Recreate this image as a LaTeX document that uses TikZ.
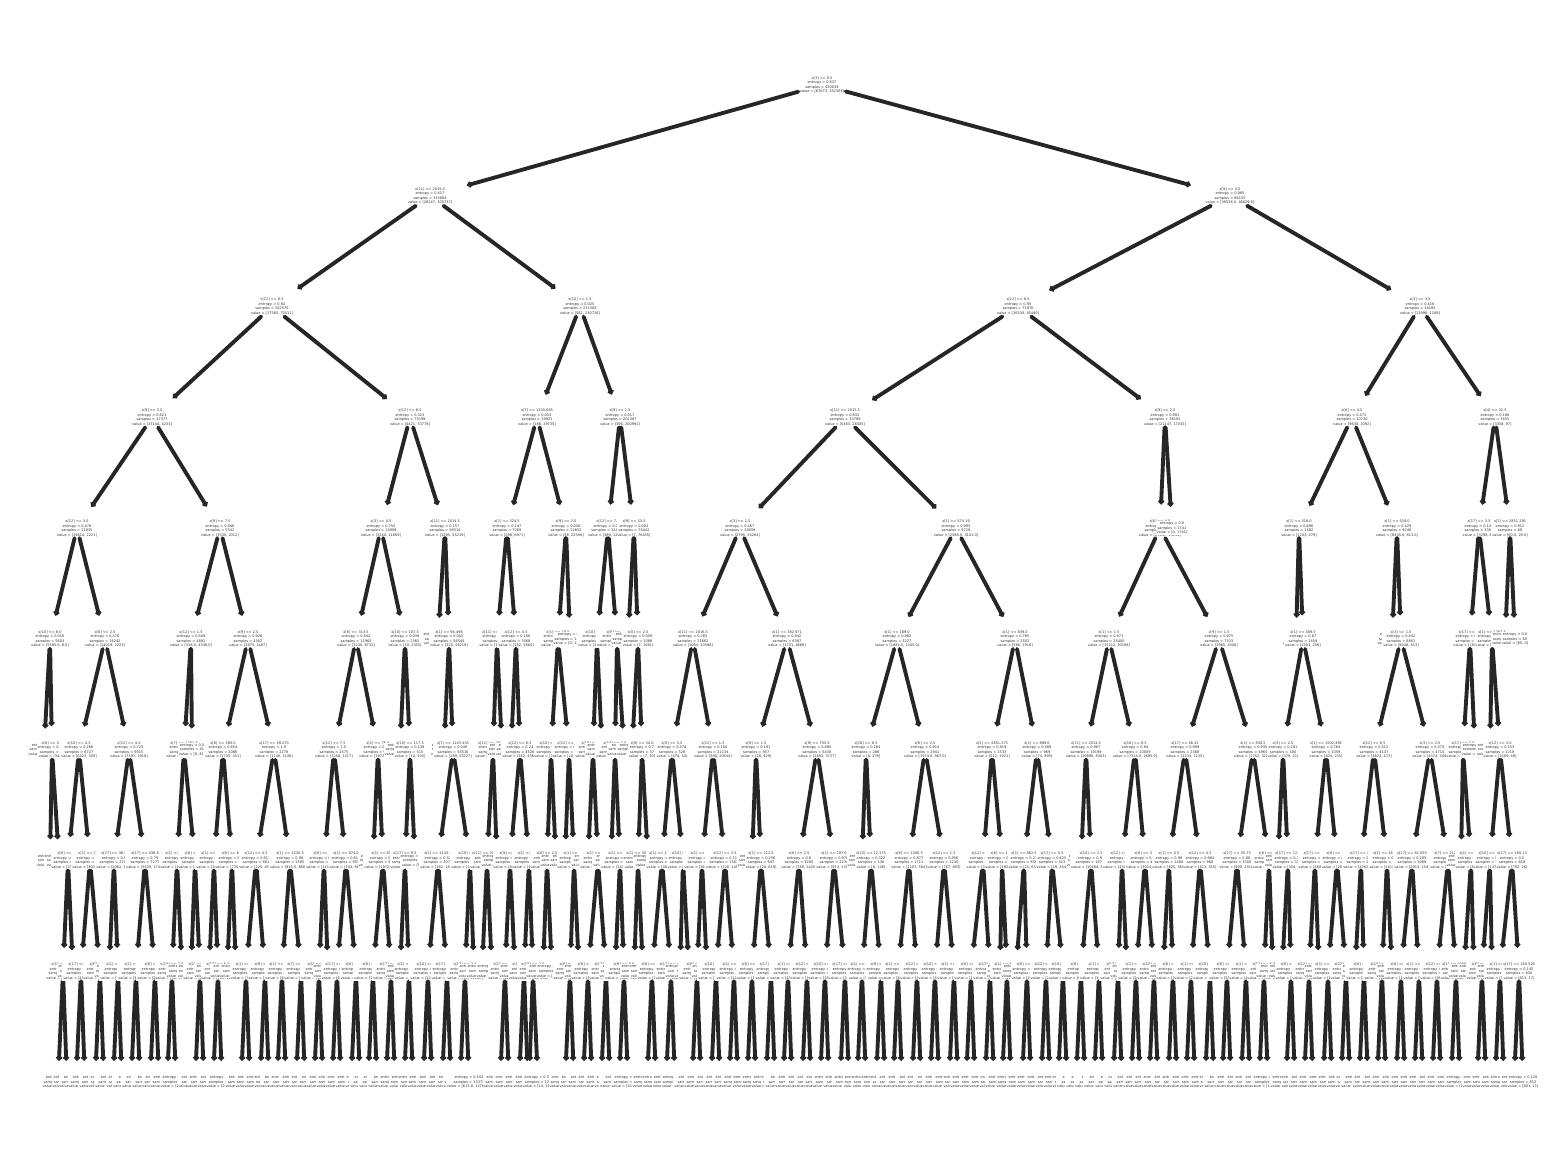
\documentclass[tikz,border=0pt]{standalone}
\usepackage{fontspec}
\setmainfont{DejaVu Sans}
\usetikzlibrary{arrows.meta}

\newcommand{\splt}[4]{#1\\entropy = #2\\samples = #3\\value = [#4]}
\newcommand{\lf}[3]{entropy = #1\\samples = #2\\value = [#3]}
\newcommand{\kid}[4]{%
	\node[tn] (l#2n#3) at (#3,{85+110.8*#2}) {#4};
	\draw[link] (#1) -- (l#2n#3);}

\begin{document}
\begin{tikzpicture}[x=0.1mm, y=-0.1mm]
	\tikzset{tn/.style={fill=white, inner sep=0.25pt, align=center, text=black!80, font=\fontsize{1.0}{1.3}\selectfont}}
	\tikzset{link/.style={line width=1.1pt, draw=black!85, line cap=round, shorten >=1.4mm, -{Circle[length=0.55mm]}}}
	\useasboundingbox (0,0) rectangle (1568,1168);

	\node[tn] (l0n822) at (822,85) {\splt{x[3] <= 0.5}{0.637}{420039}{67673, 352366}};

	\kid{l0n822}{1}{430}{\splt{x[11] <= 2015.5}{0.417}{333884}{28147, 305737}}
	 \kid{l1n430}{2}{272}{\splt{x[12] <= 8.5}{0.84}{102576}{27565, 75011}}
	  \kid{l2n272}{3}{152}{\splt{x[9] <= 3.5}{0.621}{27377}{23144, 4233}}
	   \kid{l3n152}{4}{77}{\splt{x[12] <= 3.5}{0.476}{21835}{19614, 2221}}
	    \kid{l4n77}{5}{50}{\splt{x[10] <= 8.0}{0.016}{5603}{5595.0, 8.0}}
	     \kid{l5n50}{6}{44}{\lf{0.0}{5561}{5561, 0}}
	     \kid{l5n50}{6}{52}{\splt{x[6] <= 5.5}{0.702}{42}{34, 8}}
	      \kid{l6n52}{7}{50}{\lf{0.0}{30}{30, 0}}
	      \kid{l6n52}{7}{59}{\lf{0.918}{12}{4, 8}}
	    \kid{l4n77}{5}{105}{\splt{x[6] <= 2.5}{0.576}{16242}{14019, 2223}}
	     \kid{l5n105}{6}{79}{\splt{x[10] <= 4.5}{0.266}{6727}{6422, 305}}
	      \kid{l6n79}{7}{68}{\splt{x[6] <= 5.5}{0.061}{3409}{3385, 24}}
	       \kid{l7n68}{8}{63}{\splt{x[1] <= 12.5}{0.04}{3180}{3166, 14}}
	        \kid{l8n63}{9}{58}{\lf{0.0}{2950}{2950, 0}}
	        \kid{l8n63}{9}{67}{\lf{0.24}{230}{221, 9}}
	       \kid{l7n68}{8}{73}{\lf{0.258}{229}{219, 10}}
	      \kid{l6n79}{7}{90}{\splt{x[1] <= 25.5}{0.42}{3318}{3037, 281}}
	       \kid{l7n90}{8}{81}{\splt{x[17] <= 10.5}{0.31}{2500}{2360, 140}}
	        \kid{l8n81}{9}{76}{\lf{0.1}{1500}{1483, 17}}
	        \kid{l8n81}{9}{85}{\lf{0.5}{1000}{887, 113}}
	       \kid{l7n90}{8}{100}{\splt{x[6] <= 3.5}{0.62}{818}{677, 141}}
	        \kid{l8n100}{9}{95}{\lf{0.6}{500}{427, 73}}
	        \kid{l8n100}{9}{104}{\lf{0.68}{318}{250, 68}}
	     \kid{l5n105}{6}{129}{\splt{x[12] <= 4.5}{0.725}{9515}{7597, 1918}}
	      \kid{l6n129}{7}{114}{\splt{x[17] <= 36.5}{0.5}{2238}{2062, 176}}
	       \kid{l7n114}{8}{109}{\lf{0.0}{140}{140, 0}}
	       \kid{l7n114}{8}{118}{\splt{x[1] <= 88.5}{0.52}{2098}{1922, 176}}
	        \kid{l8n118}{9}{113}{\lf{0.4}{1300}{1192, 108}}
	        \kid{l8n118}{9}{122}{\lf{0.39}{798}{730, 68}}
	      \kid{l6n129}{7}{145}{\splt{x[17] <= 436.8}{0.79}{7277}{5535, 1742}}
	       \kid{l7n145}{8}{136}{\splt{x[1] <= 40.5}{0.7}{4120}{3348, 772}}
	        \kid{l8n136}{9}{131}{\lf{0.6}{2500}{2102, 398}}
	        \kid{l8n136}{9}{140}{\lf{0.85}{1620}{1246, 374}}
	       \kid{l7n145}{8}{155}{\splt{x[6] <= 4.5}{0.89}{3157}{2187, 970}}
	        \kid{l8n155}{9}{150}{\lf{0.8}{2000}{1510, 490}}
	        \kid{l8n155}{9}{159}{\lf{0.99}{1157}{677, 480}}
	   \kid{l3n152}{4}{220}{\splt{x[9] <= 7.5}{0.946}{5542}{3530, 2012}}
	    \kid{l4n220}{5}{191}{\splt{x[12] <= 1.5}{0.509}{4892}{556.0, 4336.0}}
	     \kid{l5n191}{6}{184}{\splt{x[7] <= 1251.5}{0.514}{4851}{556, 4295}}
	      \kid{l6n184}{7}{177}{\splt{x[1] <= 46.5}{0.1}{4012}{46, 3966}}
	       \kid{l7n177}{8}{172}{\splt{x[10] <= 2.5}{0.08}{3811}{36, 3775}}
	        \kid{l8n172}{9}{167}{\lf{0.05}{3000}{14, 2986}}
	        \kid{l8n172}{9}{176}{\lf{0.11}{811}{22, 789}}
	       \kid{l7n177}{8}{182}{\lf{0.28}{201}{10, 191}}
	      \kid{l6n184}{7}{195}{\splt{x[6] <= 3.5}{0.966}{839}{510, 329}}
	       \kid{l7n195}{8}{191}{\lf{0.0}{96}{96, 0}}
	       \kid{l7n195}{8}{200}{\splt{x[1] <= 92.5}{0.99}{743}{414, 329}}
	        \kid{l8n200}{9}{195}{\lf{0.97}{400}{240, 160}}
	        \kid{l8n200}{9}{204}{\lf{0.999}{343}{174, 169}}
	     \kid{l5n191}{6}{192}{\lf{0.0}{41}{0, 41}}
	    \kid{l4n220}{5}{248}{\splt{x[9] <= 2.5}{0.926}{4362}{2875, 1487}}
	     \kid{l5n248}{6}{223}{\splt{x[6] <= 580.0}{0.654}{2086}{1735, 351}}
	      \kid{l6n223}{7}{214}{\splt{x[1] <= 164.5}{0.505}{1126}{1000, 126}}
	       \kid{l7n214}{8}{209}{\lf{0.0}{212}{212, 0}}
	       \kid{l7n214}{8}{218}{\splt{x[17] <= 6.5}{0.58}{914}{788, 126}}
	        \kid{l8n218}{9}{213}{\lf{0.5}{600}{533, 67}}
	        \kid{l8n218}{9}{222}{\lf{0.7}{314}{255, 59}}
	      \kid{l6n223}{7}{232}{\splt{x[6] <= 6.5}{0.76}{960}{735, 225}}
	       \kid{l7n232}{8}{227}{\lf{0.65}{612}{510, 102}}
	       \kid{l7n232}{8}{236}{\lf{0.937}{348}{225, 123}}
	     \kid{l5n248}{6}{274}{\splt{x[17] <= 49.275}{1.0}{2276}{1140, 1136}}
	      \kid{l6n274}{7}{256}{\splt{x[12] <= 4.5}{0.917}{681}{225, 456}}
	       \kid{l7n256}{8}{246}{\splt{x[1] <= 7.5}{0.71}{360}{70, 290}}
	        \kid{l8n246}{9}{241}{\lf{0.6}{250}{41, 209}}
	        \kid{l8n246}{9}{250}{\lf{0.9}{110}{29, 81}}
	       \kid{l7n256}{8}{265}{\splt{x[6] <= 8.5}{0.999}{321}{155, 166}}
	        \kid{l8n265}{9}{260}{\lf{0.98}{200}{84, 116}}
	        \kid{l8n265}{9}{269}{\lf{0.977}{121}{71, 50}}
	      \kid{l6n274}{7}{290}{\splt{x[1] <= 1530.5}{0.98}{1595}{915.0, 680.0}}
	       \kid{l7n290}{8}{282}{\splt{x[1] <= 610.0}{0.95}{1002}{632, 370}}
	        \kid{l8n282}{9}{277}{\lf{0.9}{700}{478, 222}}
	        \kid{l8n282}{9}{286}{\lf{0.997}{302}{154, 148}}
	       \kid{l7n290}{8}{301}{\splt{x[7] <= 1102.5}{0.998}{593}{283, 310}}
	        \kid{l8n301}{9}{296}{\lf{0.99}{400}{180, 220}}
	        \kid{l8n301}{9}{305}{\lf{0.97}{193}{103, 90}}
	  \kid{l2n272}{3}{410}{\splt{x[12] <= 8.5}{0.323}{75199}{4421, 70778}}
	   \kid{l3n410}{4}{381}{\splt{x[3] <= 0.5}{0.755}{14909}{3240, 11669}}
	    \kid{l4n381}{5}{356}{\splt{x[6] <= 313.5}{0.842}{11963}{3230, 8733}}
	     \kid{l5n356}{6}{334}{\splt{x[12] <= 7.5}{1.0}{2575}{1258, 1317}}
	      \kid{l6n334}{7}{324}{\splt{x[6] <= 4.5}{0.899}{1620}{1110, 510}}
	       \kid{l7n324}{8}{319}{\splt{x[1] <= 18.5}{0.85}{1490}{1030, 460}}
	        \kid{l8n319}{9}{314}{\lf{0.8}{1000}{750, 250}}
	        \kid{l8n319}{9}{323}{\lf{0.93}{490}{280, 210}}
	       \kid{l7n324}{8}{328}{\lf{0.961}{130}{80, 50}}
	      \kid{l6n334}{7}{346}{\splt{x[1] <= 874.0}{0.612}{955}{143, 812}}
	       \kid{l7n346}{8}{337}{\splt{x[17] <= 2.5}{0.45}{700}{66, 634}}
	        \kid{l8n337}{9}{332}{\lf{0.36}{500}{34, 466}}
	        \kid{l8n337}{9}{341}{\lf{0.61}{200}{32, 168}}
	       \kid{l7n346}{8}{356}{\splt{x[6] <= 2.5}{0.884}{255}{77, 178}}
	        \kid{l8n356}{9}{351}{\lf{0.86}{180}{51, 129}}
	        \kid{l8n356}{9}{360}{\lf{0.95}{75}{26, 49}}
	     \kid{l5n356}{6}{378}{\splt{x[1] <= 76.5}{0.741}{9388}{1972, 7416}}
	      \kid{l6n378}{7}{373}{\lf{0.0}{188}{0, 188}}
	      \kid{l6n378}{7}{383}{\splt{x[1] <= 61.5}{0.75}{9200}{1972, 7228}}
	       \kid{l7n383}{8}{373}{\splt{x[6] <= 3.5}{0.68}{6100}{1100, 5000}}
	        \kid{l8n373}{9}{368}{\lf{0.62}{4000}{620, 3380}}
	        \kid{l8n373}{9}{377}{\lf{0.76}{2100}{480, 1620}}
	       \kid{l7n383}{8}{391}{\splt{x[12] <= 6.5}{0.856}{3100}{872, 2228}}
	        \kid{l8n391}{9}{386}{\lf{0.8}{2000}{520, 1480}}
	        \kid{l8n391}{9}{395}{\lf{0.934}{1100}{352, 748}}
	    \kid{l4n381}{5}{405}{\splt{x[10] <= 187.5}{0.039}{2365}{10, 2355}}
	     \kid{l5n405}{6}{400}{\lf{0.0}{1850}{0, 1850}}
	     \kid{l5n405}{6}{410}{\splt{x[10] <= 117.5}{0.139}{515}{10, 505}}
	      \kid{l6n410}{7}{405}{\splt{x[17] <= 8.5}{0.1}{430}{5, 425}}
	       \kid{l7n405}{8}{400}{\lf{0.0}{212}{0, 212}}
	       \kid{l7n405}{8}{409}{\splt{x[1] <= 40.5}{0.158}{218}{5, 213}}
	        \kid{l8n409}{9}{404}{\lf{0.1}{150}{2, 148}}
	        \kid{l8n409}{9}{413}{\lf{0.183}{68}{3, 65}}
	      \kid{l6n410}{7}{415}{\lf{0.323}{85}{5, 80}}
	   \kid{l3n410}{4}{445}{\splt{x[11] <= 2014.5}{0.157}{56514}{1295, 55219}}
	    \kid{l4n445}{5}{438}{\lf{0.013}{998}{1, 997}}
	    \kid{l4n445}{5}{449}{\splt{x[1] <= 94.496}{0.052}{56544}{325, 56219}}
	     \kid{l5n449}{6}{444}{\lf{0.0}{36}{36, 0}}
	     \kid{l5n449}{6}{453}{\splt{x[7] <= 1143.435}{0.048}{55516}{289, 55227}}
	      \kid{l6n453}{7}{438}{\splt{x[1] <= 1143.5}{0.52}{2070}{182, 1888}}
	       \kid{l7n438}{8}{428}{\splt{x[10] <= 3.5}{0.41}{1500}{125, 1375}}
	        \kid{l8n428}{9}{423}{\lf{0.35}{1000}{66, 934}}
	        \kid{l8n428}{9}{432}{\lf{0.5}{500}{59, 441}}
	       \kid{l7n438}{8}{447}{\splt{x[17] <= 9.5}{0.469}{570}{57, 513}}
	        \kid{l8n447}{9}{442}{\lf{0.4}{400}{33, 367}}
	        \kid{l8n447}{9}{451}{\lf{0.6}{170}{24, 146}}
	      \kid{l6n453}{7}{470}{\splt{x[10] <= 1.5}{0.03}{53446}{107, 53339}}
	       \kid{l7n470}{8}{465}{\splt{x[12] <= 2.5}{0.027}{52000}{98, 51902}}
	        \kid{l8n465}{9}{460}{\lf{0.0}{38627}{0, 38627}}
	        \kid{l8n465}{9}{469}{\lf{0.543}{13373}{613.0, 12760.0}}
	       \kid{l7n470}{8}{474}{\lf{0.055}{1446}{9, 1437}}
	 \kid{l1n430}{2}{580}{\splt{x[10] <= 1.5}{0.025}{231308}{582, 230726}}
	  \kid{l2n580}{3}{537}{\splt{x[7] <= 1335.645}{0.053}{29921}{186, 29735}}
	   \kid{l3n537}{4}{507}{\splt{x[1] <= 324.5}{0.247}{7269}{298, 6971}}
	    \kid{l4n507}{5}{497}{\splt{x[11] <= 2016.5}{0.384}{1485}{112, 1373}}
	     \kid{l5n497}{6}{493}{\splt{x[11] <= 2014.5}{0.469}{1118}{112, 1006}}
	      \kid{l6n493}{7}{487}{\splt{x[11] <= 2013.5}{0.5}{900}{100, 800}}
	       \kid{l7n487}{8}{482}{\lf{0.469}{420}{42, 378}}
	       \kid{l7n487}{8}{492}{\lf{0.544}{480}{58, 422}}
	      \kid{l6n493}{7}{497}{\lf{0.308}{218}{12, 206}}
	     \kid{l5n497}{6}{502}{\lf{0.0}{367}{0, 367}}
	    \kid{l4n507}{5}{516}{\splt{x[12] <= 4.5}{0.166}{7668}{182, 5884}}
	     \kid{l5n516}{6}{511}{\lf{0.0}{1258}{0, 1258}}
	     \kid{l5n516}{6}{520}{\splt{x[12] <= 6.5}{0.24}{4526}{162, 4364}}
	      \kid{l6n520}{7}{510}{\splt{x[9] <= 2.5}{0.191}{3000}{88, 2912}}
	       \kid{l7n510}{8}{505}{\splt{x[1] <= 80.5}{0.171}{2600}{66, 2534}}
	        \kid{l8n505}{9}{500}{\lf{0.15}{2000}{43, 1957}}
	        \kid{l8n505}{9}{509}{\lf{0.22}{600}{23, 577}}
	       \kid{l7n510}{8}{515}{\lf{0.307}{400}{22, 378}}
	      \kid{l6n520}{7}{529}{\splt{x[1] <= 51.5}{0.344}{1526}{98, 1428}}
	       \kid{l7n529}{8}{524}{\splt{x[17] <= 4.5}{0.3}{1000}{54, 946}}
	        \kid{l8n524}{9}{519}{\lf{0.25}{700}{30, 670}}
	        \kid{l8n524}{9}{528}{\lf{0.4}{300}{24, 276}}
	       \kid{l7n529}{8}{533}{\splt{x[10] <= 2.5}{0.41}{526}{44, 482}}
	        \kid{l8n533}{9}{529}{\lf{0.37}{400}{30, 370}}
	        \kid{l8n533}{9}{538}{\lf{0.55}{126}{14, 112}}
	   \kid{l3n537}{4}{566}{\splt{x[9] <= 2.5}{0.026}{22652}{58, 22594}}
	    \kid{l4n566}{5}{558}{\splt{x[1] <= 20.5}{0.054}{9872}{58, 9814}}
	     \kid{l5n558}{6}{551}{\splt{x[10] <= 3.5}{0.066}{5060}{38, 5022}}
	      \kid{l6n551}{7}{547}{\splt{x[6] <= 2.5}{0.09}{3100}{30, 3070}}
	       \kid{l7n547}{8}{543}{\lf{0.06}{2200}{15, 2185}}
	       \kid{l7n547}{8}{552}{\lf{0.121}{900}{15, 885}}
	      \kid{l6n551}{7}{556}{\lf{0.038}{1960}{8, 1952}}
	     \kid{l5n558}{6}{569}{\splt{x[12] <= 2.5}{0.037}{4812}{20, 4792}}
	      \kid{l6n569}{7}{565}{\lf{0.0}{1400}{0, 1400}}
	      \kid{l6n569}{7}{574}{\splt{x[1] <= 8.5}{0.051}{3412}{20, 3392}}
	       \kid{l7n574}{8}{570}{\splt{x[6] <= 1.5}{0.04}{2900}{13, 2887}}
	        \kid{l8n570}{9}{565}{\lf{0.03}{2500}{8, 2492}}
	        \kid{l8n570}{9}{574}{\lf{0.1}{400}{5, 395}}
	       \kid{l7n574}{8}{579}{\lf{0.104}{512}{7, 505}}
	    \kid{l4n566}{5}{570}{\lf{0.0}{12780}{0, 12780}}
	  \kid{l2n580}{3}{620}{\splt{x[9] <= 1.5}{0.017}{201387}{396, 200991}}
	   \kid{l3n620}{4}{608}{\splt{x[12] <= 7.5}{0.015}{124945}{389, 124556}}
	    \kid{l4n608}{5}{597}{\splt{x[10] <= 5.5}{0.098}{14160}{182, 13978}}
	     \kid{l5n597}{6}{593}{\splt{x[10] <= 1.5}{0.121}{9310}{150, 9160}}
	      \kid{l6n593}{7}{588}{\lf{0.09}{4100}{40, 4060}}
	      \kid{l6n593}{7}{598}{\splt{x[1] <= 30.5}{0.148}{5210}{110, 5100}}
	       \kid{l7n598}{8}{588}{\splt{x[6] <= 2.5}{0.12}{3400}{56, 3344}}
	        \kid{l8n588}{9}{583}{\lf{0.1}{2600}{36, 2564}}
	        \kid{l8n588}{9}{592}{\lf{0.17}{800}{20, 780}}
	       \kid{l7n598}{8}{606}{\splt{x[17] <= 5.5}{0.194}{1810}{54, 1756}}
	        \kid{l8n606}{9}{601}{\lf{0.17}{1300}{35, 1265}}
	        \kid{l8n606}{9}{610}{\lf{0.25}{510}{19, 491}}
	     \kid{l5n597}{6}{602}{\lf{0.057}{4850}{32, 4818}}
	    \kid{l4n608}{5}{617}{\splt{x[6] <= 2.5}{0.018}{110785}{207, 110578}}
	     \kid{l5n617}{6}{615}{\splt{x[10] <= 2.5}{0.02}{95466}{207, 95259}}
	      \kid{l6n615}{7}{611}{\lf{0.012}{60000}{66, 59934}}
	      \kid{l6n615}{7}{620}{\splt{x[1] <= 12.5}{0.035}{35466}{141, 35325}}
	       \kid{l7n620}{8}{615}{\lf{0.0}{5300}{0, 5300}}
	       \kid{l7n620}{8}{624}{\splt{x[9] <= 0.5}{0.041}{30166}{141, 30025}}
	        \kid{l8n624}{9}{619}{\lf{0.03}{25000}{100, 24900}}
	        \kid{l8n624}{9}{628}{\lf{0.05}{5166}{41, 5125}}
	     \kid{l5n617}{6}{624}{\lf{0.0}{15319}{0, 15319}}
	   \kid{l3n620}{4}{634}{\splt{x[9] <= 33.5}{0.001}{76442}{7, 76435}}
	    \kid{l4n634}{5}{628}{\lf{0.0}{75354}{0, 75354}}
	    \kid{l4n634}{5}{638}{\splt{x[0] <= 2.5}{0.056}{1088}{7, 1081}}
	     \kid{l5n638}{6}{632}{\lf{0.0}{1051}{0, 1051}}
	     \kid{l5n638}{6}{642}{\splt{x[9] <= 34.0}{0.7}{37}{7, 30}}
	      \kid{l6n642}{7}{638}{\splt{x[1] <= 30.5}{0.592}{28}{4, 24}}
	       \kid{l7n638}{8}{634}{\lf{0.0}{15}{0, 15}}
	       \kid{l7n638}{8}{643}{\lf{0.89}{13}{4, 9}}
	      \kid{l6n642}{7}{648}{\lf{0.918}{9}{3, 6}}

	\kid{l0n822}{1}{1230}{\splt{x[9] <= 4.5}{0.995}{86155}{39526.0, 46629.0}}
	 \kid{l1n1230}{2}{1018}{\splt{x[12] <= 8.5}{0.95}{71970}{26530, 45440}}
	  \kid{l2n1018}{3}{845}{\splt{x[11] <= 2015.5}{0.632}{33788}{5383, 28405}}
	   \kid{l3n845}{4}{740}{\splt{x[3] <= 1.5}{0.467}{28059}{2795, 25264}}
	    \kid{l4n740}{5}{693}{\splt{x[11] <= 2016.5}{0.283}{21662}{1064, 20598}}
	     \kid{l5n693}{6}{672}{\splt{x[0] <= 5.5}{0.478}{528}{474, 54}}
	      \kid{l6n672}{7}{662}{\splt{x[1] <= 120.5}{0.3}{380}{360, 20}}
	       \kid{l7n662}{8}{652}{\splt{x[6] <= 3.5}{0.2}{260}{252, 8}}
	        \kid{l8n652}{9}{647}{\lf{0.15}{200}{196, 4}}
	        \kid{l8n652}{9}{656}{\lf{0.39}{60}{56, 4}}
	       \kid{l7n662}{8}{671}{\splt{x[17] <= 4.5}{0.469}{120}{108, 12}}
	        \kid{l8n671}{9}{666}{\lf{0.4}{80}{74, 6}}
	        \kid{l8n671}{9}{675}{\lf{0.6}{40}{34, 6}}
	      \kid{l6n672}{7}{683}{\splt{x[10] <= 2.5}{0.778}{148}{114, 34}}
	       \kid{l7n683}{8}{680}{\lf{0.592}{91}{78, 13}}
	       \kid{l7n683}{8}{689}{\lf{0.949}{57}{36, 21}}
	     \kid{l5n693}{6}{713}{\splt{x[12] <= 1.5}{0.184}{21134}{590, 20544}}
	      \kid{l6n713}{7}{702}{\splt{x[1] <= 15.5}{0.32}{6100}{362, 5738}}
	       \kid{l7n702}{8}{697}{\splt{x[6] <= 2.5}{0.29}{5200}{268, 4932}}
	        \kid{l8n697}{9}{692}{\lf{0.25}{4000}{170, 3830}}
	        \kid{l8n697}{9}{701}{\lf{0.42}{1200}{98, 1102}}
	       \kid{l7n702}{8}{707}{\lf{0.483}{900}{94, 806}}
	      \kid{l6n713}{7}{725}{\splt{x[12] <= 3.5}{0.113}{15034}{228, 14806}}
	       \kid{l7n725}{8}{716}{\splt{x[10] <= 1.5}{0.09}{9000}{105, 8895}}
	        \kid{l8n716}{9}{711}{\lf{0.08}{6000}{55, 5945}}
	        \kid{l8n716}{9}{720}{\lf{0.11}{3000}{50, 2950}}
	       \kid{l7n725}{8}{734}{\splt{x[1] <= 40.5}{0.144}{6034}{123, 5911}}
	        \kid{l8n734}{9}{729}{\lf{0.13}{4000}{70, 3930}}
	        \kid{l8n734}{9}{738}{\lf{0.17}{2034}{53, 1981}}
	    \kid{l4n740}{5}{787}{\splt{x[1] <= 382.071}{0.842}{6397}{1731, 4666}}
	     \kid{l5n787}{6}{756}{\splt{x[9] <= 1.5}{0.191}{957}{28, 929}}
	      \kid{l6n756}{7}{752}{\lf{0.0}{310}{0, 310}}
	      \kid{l6n756}{7}{761}{\splt{x[1] <= 212.5}{0.256}{647}{28, 619}}
	       \kid{l7n761}{8}{752}{\splt{x[6] <= 3.5}{0.2}{420}{13, 407}}
	        \kid{l8n752}{9}{747}{\lf{0.15}{300}{7, 293}}
	        \kid{l8n752}{9}{756}{\lf{0.29}{120}{6, 114}}
	       \kid{l7n761}{8}{771}{\splt{x[17] <= 5.5}{0.352}{227}{15, 212}}
	        \kid{l8n771}{9}{766}{\lf{0.3}{150}{8, 142}}
	        \kid{l8n771}{9}{775}{\lf{0.42}{77}{7, 70}}
	     \kid{l5n787}{6}{817}{\splt{x[9] <= 755.5}{0.895}{5430}{1693, 3737}}
	      \kid{l6n817}{7}{799}{\splt{x[6] <= 2.5}{0.8}{3200}{780, 2420}}
	       \kid{l7n799}{8}{788}{\splt{x[1] <= 3.5}{0.73}{2100}{430, 1670}}
	        \kid{l8n788}{9}{783}{\lf{0.7}{1500}{287, 1213}}
	        \kid{l8n788}{9}{792}{\lf{0.79}{600}{143, 457}}
	       \kid{l7n799}{8}{807}{\splt{x[12] <= 5.5}{0.902}{1100}{350, 750}}
	        \kid{l8n807}{9}{802}{\lf{0.88}{700}{210, 490}}
	        \kid{l8n807}{9}{811}{\lf{0.93}{400}{140, 260}}
	      \kid{l6n817}{7}{834}{\splt{x[1] <= 297.0}{0.976}{2230}{913, 1317}}
	       \kid{l7n834}{8}{825}{\splt{x[10] <= 1.5}{0.95}{1500}{555, 945}}
	        \kid{l8n825}{9}{820}{\lf{0.94}{1000}{360, 640}}
	        \kid{l8n825}{9}{829}{\lf{0.965}{500}{195, 305}}
	       \kid{l7n834}{8}{845}{\splt{x[17] <= 12.5}{1.0}{730}{358, 372}}
	        \kid{l8n845}{9}{840}{\lf{0.998}{400}{206, 194}}
	        \kid{l8n845}{9}{849}{\lf{0.999}{330}{152, 178}}
	   \kid{l3n845}{4}{956}{\splt{x[1] <= 574.16}{0.993}{5729}{2588.0, 3141.0}}
	    \kid{l4n956}{5}{897}{\splt{x[1] <= 189.0}{0.982}{3227}{1882.0, 1345.0}}
	     \kid{l5n897}{6}{866}{\splt{x[16] <= 8.5}{0.184}{286}{8, 278}}
	      \kid{l6n866}{7}{862}{\lf{0.0}{150}{0, 150}}
	      \kid{l6n866}{7}{871}{\splt{x[15] <= 12.175}{0.322}{136}{8, 128}}
	       \kid{l7n871}{8}{862}{\splt{x[1] <= 80.5}{0.211}{90}{3, 87}}
	        \kid{l8n862}{9}{857}{\lf{0.0}{60}{0, 60}}
	        \kid{l8n862}{9}{866}{\lf{0.469}{30}{3, 27}}
	       \kid{l7n871}{8}{881}{\splt{x[6] <= 3.5}{0.497}{46}{5, 41}}
	        \kid{l8n881}{9}{876}{\lf{0.371}{30}{2, 28}}
	        \kid{l8n881}{9}{885}{\lf{0.696}{16}{3, 13}}
	     \kid{l5n897}{6}{925}{\splt{x[6] <= 2.5}{0.914}{2941}{1974.0, 967.0}}
	      \kid{l6n925}{7}{909}{\splt{x[6] <= 1300.5}{0.877}{1711}{1207, 504}}
	       \kid{l7n909}{8}{898}{\splt{x[1] <= 248.5}{0.8}{1100}{830, 270}}
	        \kid{l8n898}{9}{893}{\lf{0.75}{700}{535, 165}}
	        \kid{l8n898}{9}{902}{\lf{0.86}{400}{295, 105}}
	       \kid{l7n909}{8}{917}{\splt{x[12] <= 3.5}{0.96}{611}{377, 234}}
	        \kid{l8n917}{9}{912}{\lf{0.9}{400}{265, 135}}
	        \kid{l8n917}{9}{921}{\lf{0.99}{211}{112, 99}}
	      \kid{l6n925}{7}{944}{\splt{x[12] <= 1.5}{0.956}{1230}{767, 463}}
	       \kid{l7n944}{8}{935}{\splt{x[10] <= 2.5}{0.92}{800}{532, 268}}
	        \kid{l8n935}{9}{930}{\lf{0.9}{500}{340, 160}}
	        \kid{l8n935}{9}{939}{\lf{0.94}{300}{192, 108}}
	       \kid{l7n944}{8}{954}{\splt{x[1] <= 416.0}{0.994}{430}{235, 195}}
	        \kid{l8n954}{9}{949}{\lf{0.98}{250}{145, 105}}
	        \kid{l8n954}{9}{958}{\lf{0.997}{180}{90, 90}}
	    \kid{l4n956}{5}{1015}{\splt{x[1] <= 839.0}{0.785}{2502}{586, 1916}}
	     \kid{l5n1015}{6}{992}{\splt{x[1] <= 4361.275}{0.919}{1533}{512, 1021}}
	      \kid{l6n992}{7}{983}{\splt{x[12] <= 4.5}{0.87}{1100}{320, 780}}
	       \kid{l7n983}{8}{971}{\splt{x[6] <= 2.5}{0.8}{700}{172, 528}}
	        \kid{l8n971}{9}{966}{\lf{0.77}{400}{90, 310}}
	        \kid{l8n971}{9}{975}{\lf{0.84}{300}{82, 218}}
	       \kid{l7n983}{8}{990}{\splt{x[17] <= 6.5}{0.951}{400}{148, 252}}
	        \kid{l8n990}{9}{985}{\lf{0.93}{250}{87, 163}}
	        \kid{l8n990}{9}{994}{\lf{0.97}{150}{61, 89}}
	      \kid{l6n992}{7}{1002}{\splt{x[6] <= 16.0}{0.991}{433}{192, 241}}
	       \kid{l7n1002}{8}{1000}{\lf{0.0}{18}{18, 0}}
	       \kid{l7n1002}{8}{1007}{\splt{x[1] <= 622.5}{0.982}{415}{174, 241}}
	        \kid{l8n1007}{9}{1002}{\lf{0.97}{250}{100, 150}}
	        \kid{l8n1007}{9}{1011}{\lf{0.99}{165}{74, 91}}
	     \kid{l5n1015}{6}{1037}{\splt{x[1] <= 889.0}{0.389}{969}{74, 895}}
	      \kid{l6n1037}{7}{1024}{\splt{x[1] <= 862.5}{0.23}{656}{25, 631}}
	       \kid{l7n1024}{8}{1016}{\lf{0.0}{120}{0, 120}}
	       \kid{l7n1024}{8}{1027}{\splt{x[6] <= 2.5}{0.273}{536}{25, 511}}
	        \kid{l8n1027}{9}{1022}{\lf{0.24}{400}{16, 384}}
	        \kid{l8n1027}{9}{1031}{\lf{0.34}{136}{9, 127}}
	      \kid{l6n1037}{7}{1052}{\splt{x[17] <= 5.5}{0.625}{313}{49, 264}}
	       \kid{l7n1052}{8}{1046}{\splt{x[12] <= 2.5}{0.5}{200}{22, 178}}
	        \kid{l8n1046}{9}{1041}{\lf{0.44}{130}{12, 118}}
	        \kid{l8n1046}{9}{1050}{\lf{0.6}{70}{10, 60}}
	       \kid{l7n1052}{8}{1063}{\splt{x[10] <= 1.5}{0.793}{113}{27, 86}}
	        \kid{l8n1063}{9}{1058}{\lf{0.75}{80}{17, 63}}
	        \kid{l8n1063}{9}{1067}{\lf{0.886}{33}{10, 23}}
	  \kid{l2n1018}{3}{1165}{\splt{x[9] <= 2.5}{0.991}{38182}{21147, 17035}}
	   \kid{l3n1165}{4}{1160}{\splt{x[6] <= 4.5}{0.988}{36441}{21147, 15294}}
	    \kid{l4n1160}{5}{1109}{\splt{x[1] <= 1.5}{0.971}{25400}{15212, 10188}}
	     \kid{l5n1109}{6}{1086}{\splt{x[11] <= 2014.5}{0.987}{19199}{10896, 8303}}
	      \kid{l6n1086}{7}{1081}{\lf{0.0}{412}{412, 0}}
	      \kid{l6n1086}{7}{1091}{\splt{x[10] <= 2.5}{0.99}{18787}{10484, 8303}}
	       \kid{l7n1091}{8}{1081}{\splt{x[6] <= 2.5}{0.97}{10896}{6530, 4366}}
	        \kid{l8n1081}{9}{1076}{\lf{0.95}{6000}{3800, 2200}}
	        \kid{l8n1081}{9}{1085}{\lf{0.99}{4896}{2730, 2166}}
	       \kid{l7n1091}{8}{1099}{\splt{x[1] <= 0.5}{1.0}{7891}{3954, 3937}}
	        \kid{l8n1099}{9}{1094}{\lf{1.0}{5000}{2520, 2480}}
	        \kid{l8n1099}{9}{1103}{\lf{0.99}{2891}{1434, 1457}}
	     \kid{l5n1109}{6}{1135}{\splt{x[16] <= 8.5}{0.84}{10009}{7314.0, 2695.0}}
	      \kid{l6n1135}{7}{1122}{\splt{x[12] <= 5.5}{0.7}{5300}{4300, 1000}}
	       \kid{l7n1122}{8}{1118}{\splt{x[17] <= 3.5}{0.65}{4800}{4000, 800}}
	        \kid{l8n1118}{9}{1113}{\lf{0.6}{3500}{3000, 500}}
	        \kid{l8n1118}{9}{1122}{\lf{0.78}{1300}{1000, 300}}
	       \kid{l7n1122}{8}{1127}{\lf{0.971}{500}{300, 200}}
	      \kid{l6n1135}{7}{1145}{\splt{x[6] <= 3.5}{0.943}{4709}{3014, 1695}}
	       \kid{l7n1145}{8}{1136}{\splt{x[1] <= 1.5}{0.91}{3000}{2025, 975}}
	        \kid{l8n1136}{9}{1131}{\lf{0.87}{2000}{1420, 580}}
	        \kid{l8n1136}{9}{1140}{\lf{0.98}{1000}{605, 395}}
	       \kid{l7n1145}{8}{1154}{\splt{x[10] <= 2.5}{0.983}{1709}{989, 720}}
	        \kid{l8n1154}{9}{1149}{\lf{0.97}{1100}{660, 440}}
	        \kid{l8n1154}{9}{1158}{\lf{0.995}{609}{329, 280}}
	    \kid{l4n1160}{5}{1219}{\splt{x[9] <= 1.5}{0.975}{7333}{2985, 4348}}
	     \kid{l5n1219}{6}{1185}{\splt{x[17] <= 46.41}{0.999}{2368}{1233, 1135}}
	      \kid{l6n1185}{7}{1169}{\splt{x[1] <= 0.5}{0.98}{1400}{820, 580}}
	       \kid{l7n1169}{8}{1163}{\lf{0.0}{60}{60, 0}}
	       \kid{l7n1169}{8}{1173}{\splt{x[6] <= 2.5}{0.987}{1340}{760, 580}}
	        \kid{l8n1173}{9}{1168}{\lf{0.98}{900}{520, 380}}
	        \kid{l8n1173}{9}{1177}{\lf{0.995}{440}{240, 200}}
	      \kid{l6n1185}{7}{1200}{\splt{x[12] <= 4.5}{0.984}{968}{413, 555}}
	       \kid{l7n1200}{8}{1191}{\splt{x[1] <= 2.5}{0.95}{600}{222, 378}}
	        \kid{l8n1191}{9}{1186}{\lf{0.93}{380}{132, 248}}
	        \kid{l8n1191}{9}{1195}{\lf{0.98}{220}{90, 130}}
	       \kid{l7n1200}{8}{1210}{\splt{x[10] <= 1.5}{0.999}{368}{191, 177}}
	        \kid{l8n1210}{9}{1205}{\lf{0.99}{200}{110, 90}}
	        \kid{l8n1210}{9}{1214}{\lf{0.999}{168}{81, 87}}
	     \kid{l5n1219}{6}{1253}{\splt{x[1] <= 830.5}{0.935}{4965}{1752, 3213}}
	      \kid{l6n1253}{7}{1237}{\splt{x[17] <= 35.75}{0.88}{3300}{990, 2310}}
	       \kid{l7n1237}{8}{1227}{\splt{x[6] <= 3.5}{0.83}{2100}{552, 1548}}
	        \kid{l8n1227}{9}{1222}{\lf{0.8}{1500}{366, 1134}}
	        \kid{l8n1227}{9}{1231}{\lf{0.89}{600}{186, 414}}
	       \kid{l7n1237}{8}{1246}{\splt{x[1] <= 2.5}{0.947}{1200}{438, 762}}
	        \kid{l8n1246}{9}{1241}{\lf{0.93}{800}{278, 522}}
	        \kid{l8n1246}{9}{1250}{\lf{0.975}{400}{160, 240}}
	      \kid{l6n1253}{7}{1269}{\splt{x[6] <= 2.5}{0.995}{1665}{762, 903}}
	       \kid{l7n1269}{8}{1264}{\splt{x[12] <= 5.5}{0.99}{1200}{530, 670}}
	        \kid{l8n1264}{9}{1259}{\lf{0.98}{800}{340, 460}}
	        \kid{l8n1264}{9}{1268}{\lf{0.998}{400}{190, 210}}
	       \kid{l7n1269}{8}{1273}{\lf{1.0}{465}{232, 233}}
	   \kid{l3n1165}{4}{1172}{\lf{0.0}{1741}{0, 1741}}
	 \kid{l1n1230}{2}{1420}{\splt{x[3] <= 3.5}{0.416}{14185}{12996, 1189}}
	  \kid{l2n1420}{3}{1352}{\splt{x[6] <= 4.5}{0.475}{10730}{9638, 1092}}
	   \kid{l3n1352}{4}{1299}{\splt{x[1] <= 316.0}{0.696}{1482}{1203, 279}}
	    \kid{l4n1299}{5}{1296}{\lf{0.0}{23}{0, 23}}
	    \kid{l4n1299}{5}{1303}{\splt{x[1] <= 589.5}{0.67}{1459}{1203, 256}}
	     \kid{l5n1303}{6}{1283}{\splt{x[3] <= 2.5}{0.281}{400}{379, 21}}
	      \kid{l6n1283}{7}{1278}{\lf{0.0}{25}{25, 0}}
	      \kid{l6n1283}{7}{1288}{\splt{x[17] <= 12.5}{0.31}{375}{354, 21}}
	       \kid{l7n1288}{8}{1282}{\lf{0.0}{40}{40, 0}}
	       \kid{l7n1288}{8}{1291}{\splt{x[6] <= 2.5}{0.338}{335}{314, 21}}
	        \kid{l8n1291}{9}{1286}{\lf{0.28}{250}{238, 12}}
	        \kid{l8n1291}{9}{1295}{\lf{0.51}{85}{76, 9}}
	     \kid{l5n1303}{6}{1326}{\splt{x[1] <= 1502.495}{0.764}{1059}{824, 235}}
	      \kid{l6n1326}{7}{1315}{\splt{x[17] <= 6.5}{0.7}{700}{560, 140}}
	       \kid{l7n1315}{8}{1309}{\splt{x[12] <= 3.5}{0.65}{600}{500, 100}}
	        \kid{l8n1309}{9}{1304}{\lf{0.6}{450}{380, 70}}
	        \kid{l8n1309}{9}{1313}{\lf{0.77}{150}{120, 30}}
	       \kid{l7n1315}{8}{1319}{\lf{0.971}{100}{60, 40}}
	      \kid{l6n1326}{7}{1337}{\splt{x[6] <= 1.5}{0.834}{359}{264, 95}}
	       \kid{l7n1337}{8}{1328}{\splt{x[1] <= 845.0}{0.72}{200}{160, 40}}
	        \kid{l8n1328}{9}{1323}{\lf{0.65}{120}{100, 20}}
	        \kid{l8n1328}{9}{1332}{\lf{0.81}{80}{60, 20}}
	       \kid{l7n1337}{8}{1346}{\splt{x[10] <= 2.5}{0.93}{159}{104, 55}}
	        \kid{l8n1346}{9}{1341}{\lf{0.9}{100}{68, 32}}
	        \kid{l8n1346}{9}{1350}{\lf{0.98}{59}{36, 23}}
	   \kid{l3n1352}{4}{1397}{\splt{x[1] <= 518.0}{0.429}{9248}{8435.0, 813.0}}
	    \kid{l4n1397}{5}{1392}{\lf{0.0}{387}{387, 0}}
	    \kid{l4n1397}{5}{1401}{\splt{x[3] <= 1.5}{0.442}{8861}{8048, 813}}
	     \kid{l5n1401}{6}{1374}{\splt{x[12] <= 8.5}{0.512}{4147}{3674, 473}}
	      \kid{l6n1374}{7}{1361}{\splt{x[17] <= 4.5}{0.45}{2500}{2262, 238}}
	       \kid{l7n1361}{8}{1355}{\lf{0.0}{90}{90, 0}}
	       \kid{l7n1361}{8}{1364}{\splt{x[6] <= 2.5}{0.463}{2410}{2172, 238}}
	        \kid{l8n1364}{9}{1359}{\lf{0.42}{1800}{1645, 155}}
	        \kid{l8n1364}{9}{1368}{\lf{0.57}{610}{527, 83}}
	      \kid{l6n1374}{7}{1387}{\splt{x[1] <= 1600.0}{0.592}{1647}{1412, 235}}
	       \kid{l7n1387}{8}{1382}{\splt{x[10] <= 1.5}{0.55}{1400}{1222, 178}}
	        \kid{l8n1382}{9}{1377}{\lf{0.5}{1000}{890, 110}}
	        \kid{l8n1382}{9}{1386}{\lf{0.65}{400}{332, 68}}
	       \kid{l7n1387}{8}{1392}{\lf{0.779}{247}{190, 57}}
	     \kid{l5n1401}{6}{1430}{\splt{x[3] <= 2.5}{0.374}{4714}{4374, 340}}
	      \kid{l6n1430}{7}{1412}{\splt{x[17] <= 81.055}{0.285}{3069}{2915, 154}}
	       \kid{l7n1412}{8}{1401}{\splt{x[6] <= 3.5}{0.25}{2000}{1917, 83}}
	        \kid{l8n1401}{9}{1396}{\lf{0.22}{1400}{1350, 50}}
	        \kid{l8n1401}{9}{1405}{\lf{0.31}{600}{567, 33}}
	       \kid{l7n1412}{8}{1419}{\splt{x[1] <= 900.5}{0.354}{1069}{998, 71}}
	        \kid{l8n1419}{9}{1414}{\lf{0.32}{700}{659, 41}}
	        \kid{l8n1419}{9}{1423}{\lf{0.41}{369}{339, 30}}
	      \kid{l6n1430}{7}{1448}{\splt{x[7] <= 1127.5}{0.509}{1645}{1459, 186}}
	       \kid{l7n1448}{8}{1437}{\splt{x[12] <= 3.5}{0.45}{1100}{997, 103}}
	        \kid{l8n1437}{9}{1432}{\lf{0.4}{800}{730, 70}}
	        \kid{l8n1437}{9}{1441}{\lf{0.55}{300}{267, 33}}
	       \kid{l7n1448}{8}{1456}{\splt{x[1] <= 1050.0}{0.614}{545}{462, 83}}
	        \kid{l8n1456}{9}{1451}{\lf{0.57}{400}{345, 55}}
	        \kid{l8n1456}{9}{1460}{\lf{0.72}{145}{117, 28}}
	  \kid{l2n1420}{3}{1495}{\splt{x[4] <= 32.5}{0.186}{3455}{3358, 97}}
	   \kid{l3n1495}{4}{1479}{\splt{x[17] <= 3.5}{0.144}{3366}{3298, 68}}
	    \kid{l4n1479}{5}{1470}{\splt{x[17] <= 3.0}{0.228}{1130}{1095, 35}}
	     \kid{l5n1470}{6}{1463}{\splt{x[17] <= 2.5}{0.237}{1040}{1000, 40}}
	      \kid{l6n1463}{7}{1461}{\lf{0.0}{120}{120, 0}}
	      \kid{l6n1463}{7}{1471}{\splt{x[1] <= 70.5}{0.29}{920}{873, 47}}
	       \kid{l7n1471}{8}{1464}{\lf{0.2}{500}{484, 16}}
	       \kid{l7n1471}{8}{1474}{\lf{0.379}{420}{389, 31}}
	     \kid{l5n1470}{6}{1475}{\lf{0.0}{90}{90, 0}}
	    \kid{l4n1479}{5}{1492}{\splt{x[1] <= 1287.5}{0.151}{2236}{2187, 49}}
	     \kid{l5n1492}{6}{1490}{\lf{0.0}{18}{18, 0}}
	     \kid{l5n1492}{6}{1500}{\splt{x[12] <= 3.0}{0.153}{2218}{2169, 49}}
	      \kid{l6n1500}{7}{1490}{\splt{x[10] <= 2.5}{0.12}{1400}{1377, 23}}
	       \kid{l7n1490}{8}{1482}{\splt{x[6] <= 1.5}{0.1}{900}{890, 10}}
	        \kid{l8n1482}{9}{1477}{\lf{0.08}{600}{595, 5}}
	        \kid{l8n1482}{9}{1486}{\lf{0.14}{300}{295, 5}}
	       \kid{l7n1490}{8}{1492}{\lf{0.173}{500}{487, 13}}
	      \kid{l6n1500}{7}{1512}{\splt{x[17] <= 160.13}{0.2}{818}{792, 26}}
	       \kid{l7n1512}{8}{1500}{\splt{x[1] <= 3.5}{0.22}{400}{386, 14}}
	        \kid{l8n1500}{9}{1495}{\lf{0.2}{250}{243, 7}}
	        \kid{l8n1500}{9}{1504}{\lf{0.26}{150}{145, 5}}
	       \kid{l7n1512}{8}{1519}{\splt{x[17] <= 160.526}{0.145}{830}{813, 17}}
	        \kid{l8n1519}{9}{1514}{\lf{0.0}{18}{18, 0}}
	        \kid{l8n1519}{9}{1523}{\lf{0.128}{812}{801, 11}}
	   \kid{l3n1495}{4}{1510}{\splt{x[1] <= 2851.295}{0.912}{89}{60.0, 29.0}}
	    \kid{l4n1510}{5}{1505}{\lf{0.0}{29}{0, 29}}
	    \kid{l4n1510}{5}{1515}{\lf{0.0}{60}{60, 0}}
\end{tikzpicture}
\end{document}
